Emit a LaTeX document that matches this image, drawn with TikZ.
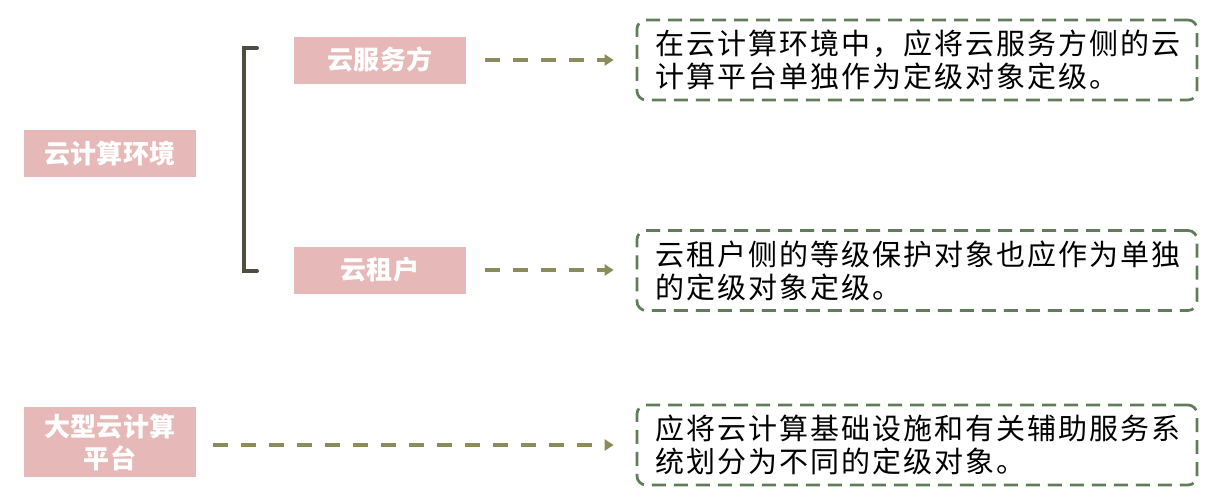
\documentclass[tikz,border=0pt]{standalone}
\usepackage{fontspec}
\usetikzlibrary{positioning}
\usetikzlibrary{calc}
\usetikzlibrary{arrows.meta}
\newfontfamily\cjk[LetterSpace=7]{Noto Sans CJK SC}
\newfontfamily\cjktopic[LetterSpace=1]{Noto Sans CJK SC}
\definecolor{pinkbox}{HTML}{E6B8B7}
\definecolor{bracketgray}{HTML}{4D4D40}
\definecolor{arrowolive}{HTML}{8C8C5A}
\definecolor{dashgreen}{HTML}{5F7D59}

\begin{document}
\begin{tikzpicture}[x=1pt, y=-1pt,
    topic/.style={rectangle, fill=pinkbox, text=white, minimum width=172pt, minimum height=47pt,
        inner sep=0pt, align=center, font=\cjktopic\bfseries\fontsize{26}{32}\selectfont},
    note/.style={rectangle, draw=dashgreen, line width=2.7pt, dash pattern=on 14pt off 8pt,
        rounded corners=9pt, minimum width=560pt, minimum height=80pt, inner xsep=18pt,
        text width=524pt, align=left, font=\cjk\fontsize{29}{33}\selectfont},
    link/.style={draw=arrowolive, line width=4pt, dash pattern=on 15pt off 13pt,
        -{Triangle[length=9pt, width=11pt]}}]
    \useasboundingbox (0,0) rectangle (1211,501);

    % Left side
    \node[topic] (env) at (110,153.5) {云计算环境};
    \node[topic, minimum height=70pt] (big) at (110,442) {大型云计算\\平台};

    % Two parts of the cloud environment
    \node[topic] (csp) at (380,60) {云服务方};
    \node[topic] (tenant) at (380,270) {云租户};

    % Bracket
    \coordinate (btop) at (244,48);
    \coordinate (bbot) at (244,271);
    \draw[bracketgray, line width=4pt, line cap=round] ([xshift=13pt]btop) -- (btop) -- (bbot) -- ([xshift=13pt]bbot);

    % Notes
    \node[note] (n1) at (917,60) {在云计算环境中，应将云服务方侧的云\\计算平台单独作为定级对象定级。};
    \node[note] (n2) at (917,270.5) {云租户侧的等级保护对象也应作为单独\\的定级对象定级。};
    \node[note] (n3) at (917,445) {应将云计算基础设施和有关辅助服务系\\统划分为不同的定级对象。};

    % Arrows
    \coordinate (bigout) at ([yshift=-3pt]big.east);
    \draw[link, shorten <=19pt, shorten >=22pt] (csp.east) -- (n1.west |- csp.east);
    \draw[link, shorten <=19pt, shorten >=22pt] (tenant.east) -- (n2.west |- tenant.east);
    \draw[link, shorten <=17pt, shorten >=22pt] (bigout) -- (n3.west |- bigout);
\end{tikzpicture}
\end{document}
